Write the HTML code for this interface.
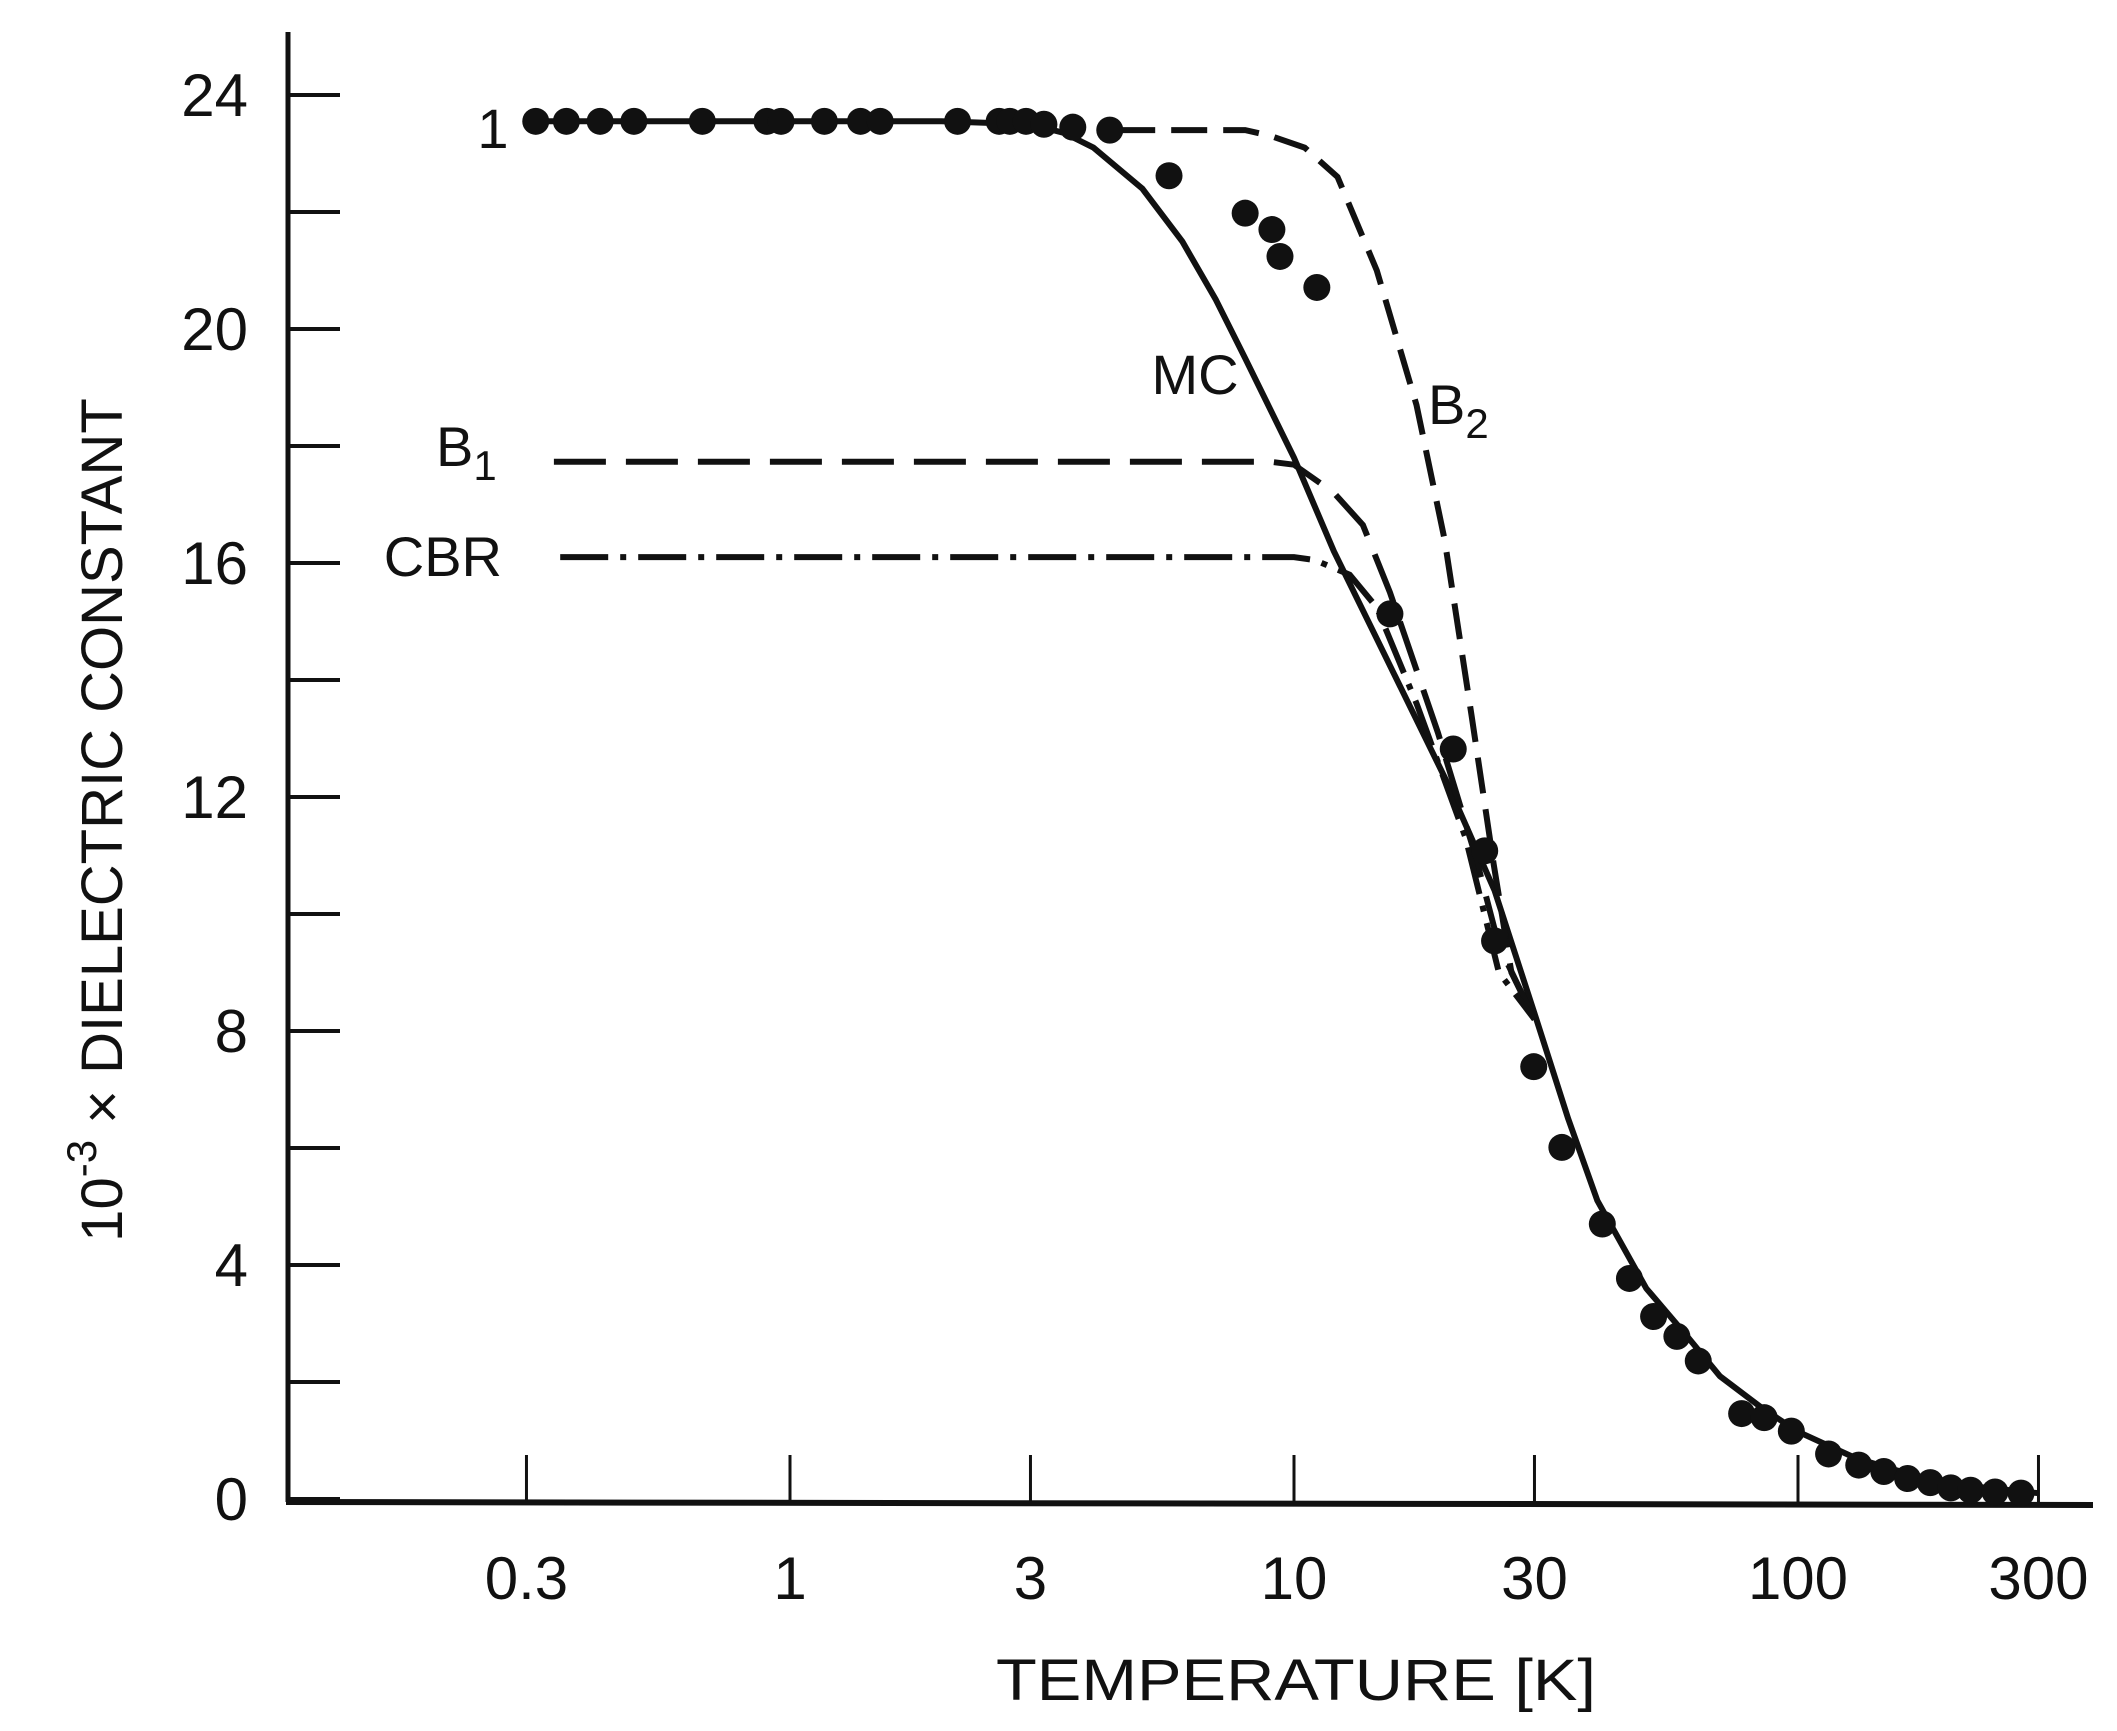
<!DOCTYPE html>
<html><head><meta charset="utf-8"><style>
html,body{margin:0;padding:0;background:#fff;}
svg{display:block;}
text{font-family:"Liberation Sans",sans-serif;fill:#111;}
</style></head><body>
<svg id="chart" width="2117" height="1731" viewBox="0 0 2117 1731" xmlns="http://www.w3.org/2000/svg">
<g id="axes"></g>
<g id="series"></g>
<text x="1296" y="1700" font-size="58" text-anchor="middle" textLength="600" lengthAdjust="spacingAndGlyphs">TEMPERATURE [K]</text>
<text transform="translate(122,820) rotate(-90)" font-size="58" text-anchor="middle">10<tspan dy="-26" font-size="42">-3</tspan><tspan dy="26"> × DIELECTRIC CONSTANT</tspan></text>
<text x="493" y="148" font-size="56" text-anchor="middle">1</text>
<text x="1195" y="394" font-size="56" text-anchor="middle">MC</text>
<text x="1428" y="424" font-size="56">B<tspan dy="14" font-size="42">2</tspan></text>
<text x="436" y="466" font-size="56">B<tspan dy="14" font-size="42">1</tspan></text>
<text x="502" y="576" font-size="56" text-anchor="end">CBR</text>
</svg>
<script>
const xTicks=[0.3,1,3,10,30,100,300];
const xTickLabels=["0.3","1","3","10","30","100","300"];
const yTicks=[0,2,4,6,8,10,12,14,16,18,20,22,24];
const yTickLabels=["0","4","8","12","16","20","24"];
const dataT=[0.313,0.36,0.42,0.49,0.67,0.90,0.96,1.17,1.38,1.51,2.15,2.6,2.73,2.94,3.19,3.64,4.31,5.65,8.0,9.04,9.38,11.1,15.5,20.7,23.9,25.0,29.9,34.0,40.9,46.3,51.7,57.5,63.4,77.3,85.7,97,115,132,148,165,183,201,220,246,277];
const dataV=[23.55,23.55,23.55,23.55,23.55,23.55,23.55,23.55,23.55,23.55,23.55,23.55,23.55,23.55,23.5,23.45,23.4,22.62,21.98,21.7,21.24,20.71,15.13,12.82,11.08,9.54,7.39,6.01,4.7,3.77,3.12,2.78,2.36,1.46,1.39,1.16,0.77,0.58,0.47,0.35,0.28,0.19,0.15,0.12,0.10];
const mcT=[0.3,2,3,3.5,4,5,6,7,8,10,12,15,20,25,30,35,40,50,60,70,85,100,130,170,220,300];
const mcV=[23.55,23.55,23.5,23.35,23.1,22.4,21.5,20.5,19.5,17.8,16.2,14.5,12.3,10.4,8.3,6.5,5.1,3.6,2.8,2.1,1.55,1.15,0.7,0.4,0.22,0.1];
const b2T=[4.5,8,9,10.5,12.2,14.6,17.5,19.9,22.5,24.9,27,30];
const b2V=[23.4,23.4,23.3,23.1,22.6,21.0,18.7,16.4,13.4,10.85,9.0,8.2];
const b1T=[0.34,9,10,12,13.7,15.5,19.3,22.9,25.5,30];
const b1V=[17.73,17.73,17.68,17.2,16.65,15.5,13.1,11.0,9.46,8.2];
const cbrT=[0.35,10,11,12.9,14.6,17.5,21.9,25.5,30];
const cbrV=[16.1,16.1,16.05,15.8,15.24,13.6,11.3,9.0,8.2];
const NS="http://www.w3.org/2000/svg";
function xs(t){return 790+504*Math.log10(t);}
function ys(v){return 1499-58.5*v;}
function mk(tag,attrs,parent){const e=document.createElementNS(NS,tag);for(const k in attrs)e.setAttribute(k,attrs[k]);parent.appendChild(e);return e;}
const ax=document.getElementById('axes'), se=document.getElementById('series');
let e=mk('line',{x1:288,y1:32,x2:288,y2:1502,stroke:'#111','stroke-width':5},ax);


e=mk('line',{x1:286,y1:1502,x2:2093,y2:1505,stroke:'#111','stroke-width':6},ax);


yTicks.forEach(v=>{const t=mk('line',{x1:288,y1:ys(v),x2:340,y2:ys(v),stroke:'#111','stroke-width':4},ax);

});
yTickLabels.forEach(l=>{const t=mk('text',{x:248,y:ys(+l)+21,'font-size':60,'text-anchor':'end'},ax);t.textContent=l;

});
xTicks.forEach((v,i)=>{const t=mk('line',{x1:xs(v),y1:1502,x2:xs(v),y2:1455,stroke:'#111','stroke-width':3},ax);


const l=mk('text',{x:xs(v),y:1599,'font-size':60,'text-anchor':'middle'},ax);l.textContent=xTickLabels[i];

});
function path(T,V){return T.map((t,i)=>(i?'L':'M')+xs(t).toFixed(1)+','+ys(V[i]).toFixed(1)).join(' ');}
e=mk('path',{d:path(mcT,mcV),fill:'none',stroke:'#111','stroke-width':6,'stroke-linejoin':'round'},se);


e=mk('path',{d:path(b2T,b2V),fill:'none',stroke:'#111','stroke-width':6,'stroke-dasharray':'36 16'},se);


e=mk('path',{d:path(b1T,b1V),fill:'none',stroke:'#111','stroke-width':6,'stroke-dasharray':'52 20'},se);


e=mk('path',{d:path(cbrT,cbrV),fill:'none',stroke:'#111','stroke-width':6,'stroke-dasharray':'48 12 6 12'},se);


dataT.forEach((t,i)=>{const c=mk('circle',{cx:xs(t),cy:ys(dataV[i]),r:13.5,fill:'#111'},se);

});
</script>
</body></html>
